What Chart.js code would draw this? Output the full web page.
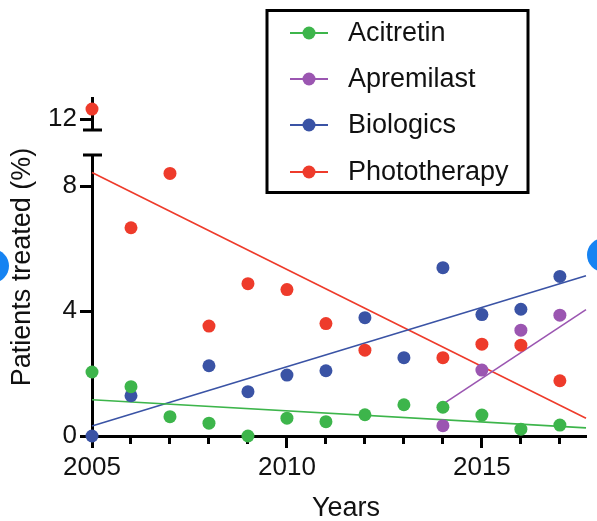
<!DOCTYPE html>
<html>
<head>
<meta charset="utf-8">
<title>Patients treated</title>
<script src="https://cdn.jsdelivr.net/npm/chart.js@4.4.1/dist/chart.umd.min.js"></script>
<style>
  html, body { margin: 0; padding: 0; background: #fff; }
  #wrap { position: relative; width: 597px; height: 521px; overflow: hidden; }
  .blob { position: absolute; width: 34px; height: 34px; border-radius: 50%; background: #1683f2; }
</style>
</head>
<body>
<div id="wrap">
  <canvas id="chart" width="597" height="521"></canvas>
  <div class="blob" style="left:-25px; top:249px"></div>
  <div class="blob" style="left:587px; top:238px"></div>
</div>
<script>
// ── data ──
const years = [2005, 2006, 2007, 2008, 2009, 2010, 2011, 2012, 2013, 2014, 2015, 2016, 2017];
const seriesNames = ['Acitretin', 'Apremilast', 'Biologics', 'Phototherapy'];

const acitretin    = [2.05, 1.58, 0.62, 0.41, 0.00, 0.57, 0.46, 0.68, 1.00, 0.92, 0.67, 0.22, 0.35];
const apremilast   = [null, null, null, null, null, null, null, null, null, 0.33, 2.11, 3.39, 3.87];
const biologics    = [0.00, 1.29, null, 2.25, 1.42, 1.95, 2.09, 3.79, 2.51, 5.39, 3.89, 4.06, 5.11];
const phototherapy = [12.32, 6.67, 8.41, 3.52, 4.88, 4.69, 3.60, 2.75, null, 2.51, 2.94, 2.91, 1.77];

// fitted trend lines, one per series (start / end)
const fitStartYear  = [2005, 2014, 2005, 2005];
const fitEndYear    = [2017.67, 2017.67, 2017.67, 2017.67];
const fitStartValue = [1.16, 1.02, 0.32, 8.44];
const fitEndValue   = [0.26, 4.05, 5.13, 0.57];

// axis ticks (broken y axis: 0-9 below, 11.65-12.675 above)
const xTicks = years;
const xLabelEvery = 5;
const yTicksLow = [0, 4, 8];
const yTicksHigh = [12];
const yLowRange = [0, 9];
const yHighRange = [11.65, 12.675];

// ── styles ──
const colors = ['#3db54b', '#9b56b1', '#3a53a5', '#ee3b2b'];
const FONT = '"Liberation Sans", Arial, Helvetica, sans-serif';
const INK = '#111';

const seriesValues = [acitretin, apremilast, biologics, phototherapy];

function points(values, keep) {
  const out = [];
  values.forEach((v, i) => {
    if (v !== null && keep(v)) out.push({ x: years[i], y: v });
  });
  return out;
}

const datasets = [];
seriesValues.forEach((vals, s) => {
  datasets.push({
    label: seriesNames[s],
    data: points(vals, v => v <= yLowRange[1]),
    yAxisID: 'y',
    showLine: false,
    pointRadius: 6.5,
    pointBackgroundColor: colors[s],
    pointBorderWidth: 0,
    clip: false,
    order: 1
  });
  const high = points(vals, v => v > yLowRange[1]);
  if (high.length) {
    datasets.push({
      label: seriesNames[s] + ' (high)',
      data: high,
      yAxisID: 'yTop',
      showLine: false,
      pointRadius: 6.5,
      pointBackgroundColor: colors[s],
      pointBorderWidth: 0,
      clip: false,
      order: 1
    });
  }
  datasets.push({
    label: seriesNames[s] + ' fit',
    data: [
      { x: fitStartYear[s], y: fitStartValue[s] },
      { x: fitEndYear[s], y: fitEndValue[s] }
    ],
    yAxisID: 'y',
    showLine: true,
    borderColor: colors[s],
    borderWidth: 1.6,
    pointRadius: 0,
    clip: false,
    order: 2
  });
});

// axis breaks, titles and boxed legend
const extras = {
  id: 'extras',
  afterDraw(chart) {
    const ctx = chart.ctx;
    const area = chart.chartArea;
    const ax = area.left;
    ctx.save();

    // break caps
    ctx.strokeStyle = '#000';
    ctx.lineWidth = 3;
    ctx.beginPath();
    const yLow = chart.scales.y;
    const yTop = chart.scales.yTop;
    ctx.moveTo(ax - 9, yLow.top); ctx.lineTo(ax + 10, yLow.top);
    ctx.moveTo(ax - 9, yTop.bottom); ctx.lineTo(ax + 10, yTop.bottom);
    ctx.stroke();

    // titles
    ctx.fillStyle = INK;
    ctx.font = '27px ' + FONT;
    ctx.textAlign = 'center';
    ctx.textBaseline = 'middle';
    ctx.fillText('Years', 346, 509);
    ctx.save();
    ctx.translate(23, 267);
    ctx.rotate(-Math.PI / 2);
    ctx.fillText('Patients treated (%)', 0, 0);
    ctx.restore();

    // legend box
    ctx.lineWidth = 3;
    ctx.strokeStyle = '#000';
    ctx.strokeRect(267, 10.5, 261, 182);
    const rows = [33, 79, 125, 172];
    ctx.textAlign = 'left';
    seriesNames.forEach((name, i) => {
      const y = rows[i];
      ctx.strokeStyle = colors[i];
      ctx.lineWidth = 1.8;
      ctx.beginPath();
      ctx.moveTo(290, y); ctx.lineTo(328, y);
      ctx.stroke();
      ctx.fillStyle = colors[i];
      ctx.beginPath();
      ctx.arc(309, y, 6.5, 0, Math.PI * 2);
      ctx.fill();
      ctx.fillStyle = INK;
      ctx.fillText(name, 348, y + 1);
    });
    ctx.restore();
  }
};

const tickFont = { family: FONT, size: 26 };

new Chart(document.getElementById('chart'), {
  type: 'scatter',
  data: { datasets },
  options: {
    responsive: false,
    animation: false,
    layout: { padding: { top: 98, right: 11, bottom: 0, left: 0 } },
    plugins: { legend: { display: false }, tooltip: { enabled: false } },
    scales: {
      x: {
        type: 'linear',
        min: years[0],
        max: fitEndYear[0],
        afterBuildTicks: s => { s.ticks = xTicks.map(v => ({ value: v })); },
        afterFit: s => { s.height = 85; },
        ticks: {
          autoSkip: false,
          maxRotation: 0,
          padding: 4,
          color: INK,
          font: tickFont,
          callback: v => (v % xLabelEvery === 0 ? String(v) : '')
        },
        grid: {
          drawOnChartArea: false,
          drawTicks: true,
          tickLength: 12,
          tickWidth: 3,
          tickColor: '#000',
          tickBorderDash: c => (c.tick && c.tick.value % xLabelEvery !== 0 ? [6, 40] : [])
        },
        border: { color: '#000', width: 3 }
      },
      y: {
        type: 'linear',
        position: 'left',
        stack: 'yaxis',
        stackWeight: 281,
        min: yLowRange[0],
        max: yLowRange[1],
        afterBuildTicks: s => { s.ticks = yTicksLow.map(v => ({ value: v })); },
        afterFit: s => { s.width = 92; },
        ticks: { padding: 3, color: INK, font: tickFont },
        grid: { drawOnChartArea: false, tickLength: 12, tickWidth: 3, tickColor: '#000' },
        border: { color: '#000', width: 3 }
      },
      yGap: {
        type: 'linear',
        position: 'left',
        stack: 'yaxis',
        stackWeight: 25,
        display: false
      },
      yTop: {
        type: 'linear',
        position: 'left',
        stack: 'yaxis',
        stackWeight: 32,
        min: yHighRange[0],
        max: yHighRange[1],
        afterBuildTicks: s => { s.ticks = yTicksHigh.map(v => ({ value: v })); },
        afterFit: s => { s.width = 92; },
        ticks: { padding: 3, color: INK, font: tickFont },
        grid: { drawOnChartArea: false, tickLength: 12, tickWidth: 3, tickColor: '#000' },
        border: { color: '#000', width: 3 }
      }
    }
  },
  plugins: [extras]
});
</script>
</body>
</html>
